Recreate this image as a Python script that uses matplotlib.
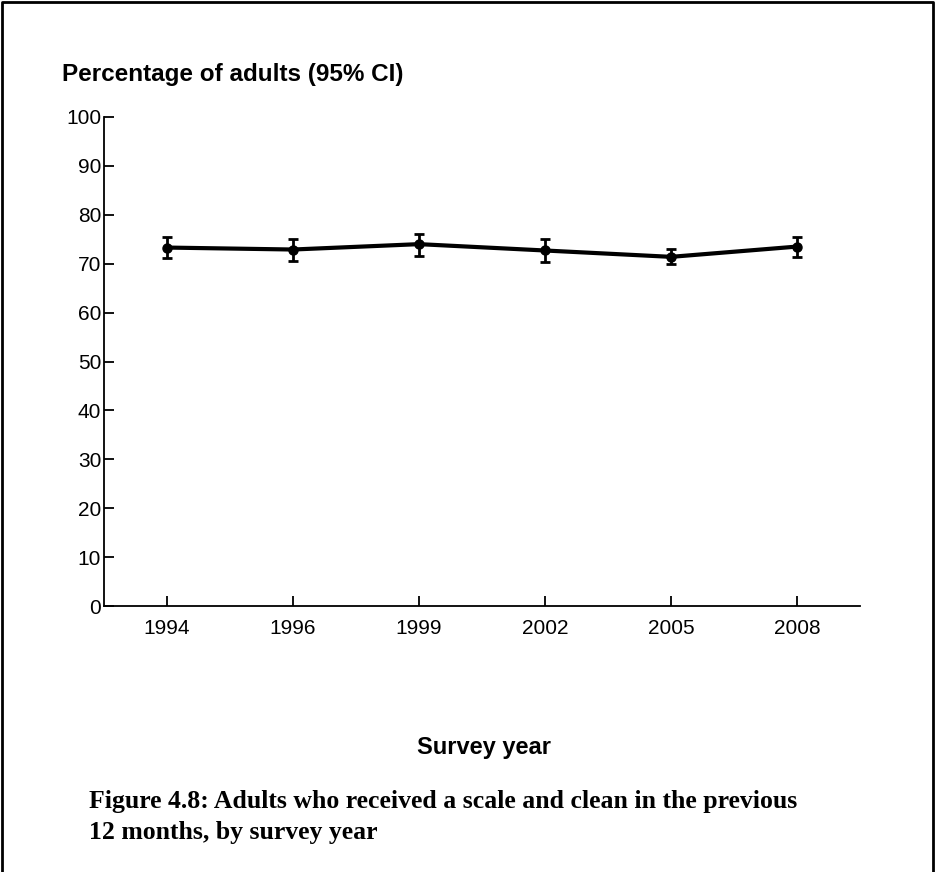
import matplotlib.pyplot as plt
from matplotlib.lines import Line2D

years = ['1994', '1996', '1999', '2002', '2005', '2008']
pct = [73.3, 72.9, 74.0, 72.7, 71.4, 73.5]
ci_low = [71.1, 70.6, 71.6, 70.3, 69.9, 71.4]
ci_high = [75.5, 75.1, 76.1, 75.1, 73.0, 75.5]
y_ticks = [0, 10, 20, 30, 40, 50, 60, 70, 80, 90, 100]

fig = plt.figure(figsize=(9.35, 8.72), dpi=100)
W, H = 935, 872

# axes box in pixel coords: x 104..860, y 117..606
ax = fig.add_axes([104 / W, 1 - 606 / H, (860 - 104) / W, (606 - 117) / H])

x = list(range(len(years)))
err = [[p - lo for p, lo in zip(pct, ci_low)], [hi - p for p, hi in zip(pct, ci_high)]]
ax.errorbar(x, pct, yerr=err, color='black', linewidth=3, marker='o', markersize=6.5,
            ecolor='black', elinewidth=2, capsize=3.3, capthick=2)

ax.set_xlim(-0.5, 5.5)
ax.set_ylim(0, 100)
ax.set_xticks(x)
ax.set_xticklabels(years)
ax.set_yticks(y_ticks)
ax.spines['top'].set_visible(False)
ax.spines['right'].set_visible(False)
for s in ('left', 'bottom'):
    ax.spines[s].set_linewidth(1.3)
ax.tick_params(direction='in', length=7, width=1.3, labelsize=15)
ax.tick_params(axis='y', pad=2)
ax.tick_params(axis='x', pad=9)
for lab in ax.get_xticklabels() + ax.get_yticklabels():
    lab.set_fontfamily('Liberation Sans')

fig.text(62 / W, 1 - 75 / H, 'Percentage of adults (95% CI)', fontsize=17.5,
         fontweight='bold', family='Liberation Sans', va='center', ha='left')
fig.text(484 / W, 1 - 747 / H, 'Survey year', fontsize=17,
         fontweight='bold', family='Liberation Sans', va='center', ha='center')
fig.text(89 / W, 1 - 801 / H, 'Figure 4.8: Adults who received a scale and clean in the previous',
         fontsize=18.5, fontweight='bold', family='Liberation Serif', va='center', ha='left')
fig.text(89 / W, 1 - 832 / H, '12 months, by survey year',
         fontsize=18.5, fontweight='bold', family='Liberation Serif', va='center', ha='left')

# frame around the figure (left, top, right)
fig.add_artist(Line2D([2 / W, 2 / W, 933 / W, 933 / W], [0, 1 - 2 / H, 1 - 2 / H, 0],
                      transform=fig.transFigure, color='black', linewidth=2))

fig.savefig('out.png', dpi=100)
